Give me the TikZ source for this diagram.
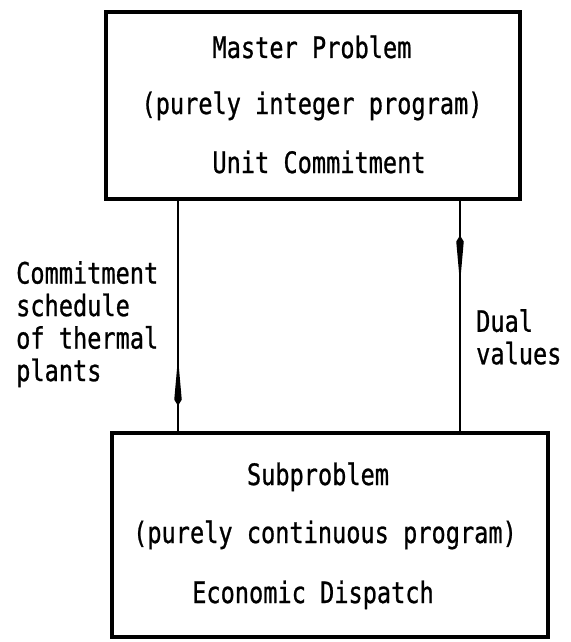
\documentclass[tikz,border=0pt]{standalone}
\usepackage{fontspec}
\setmainfont{DejaVu Sans Mono}[FakeStretch=0.8,FakeBold=0.8]
\usetikzlibrary{arrows.meta,decorations.markings}
\begin{document}
\begin{tikzpicture}[x=1pt,y=-1pt,
  box/.style={draw, line width=3.6pt, inner sep=0pt},
  txt/.style={inner sep=0pt, anchor=base, font=\fontsize{29.5}{33}\selectfont},
  lbl/.style={inner sep=0pt, align=left, anchor=north west,
    font=\fontsize{29.5}{32.5}\selectfont},
  conn/.style={line width=1.5pt, postaction={decorate},
    decoration={markings, mark=at position #1 with {\arrow{Kite[length=48pt,width=7.5pt,inset=42pt]}}}}
]
\useasboundingbox (0,0) rectangle (570,642);
\node[box, minimum width=414.5pt, minimum height=187.5pt] (master) at (313,105.5) {};
\node[box, minimum width=436.5pt, minimum height=204.5pt] (sub) at (330,535) {};
\node[txt] (m1) at (312,58) {Master Problem};
\node[txt] (m2) at (312,114) {(purely integer program)};
\node[txt] (m3) at (319,173) {Unit Commitment};
\node[txt] (s1) at (318,485) {Subproblem};
\node[txt] (s2) at (325,543) {(purely continuous program)};
\node[txt] (s3) at (313,603) {Economic Dispatch};
\coordinate (lx) at (178,0);
\coordinate (rx) at (460,0);
\draw[conn=0.89] (master.south -| lx) -- (sub.north -| lx);
\draw[conn=0.85] (sub.north -| rx) -- (master.south -| rx);
\node[lbl] (commit) at (16,261) {Commitment\\schedule\\of thermal\\plants};
\node[lbl] (dual) at (476,309) {Dual\\values};
\end{tikzpicture}
\end{document}
